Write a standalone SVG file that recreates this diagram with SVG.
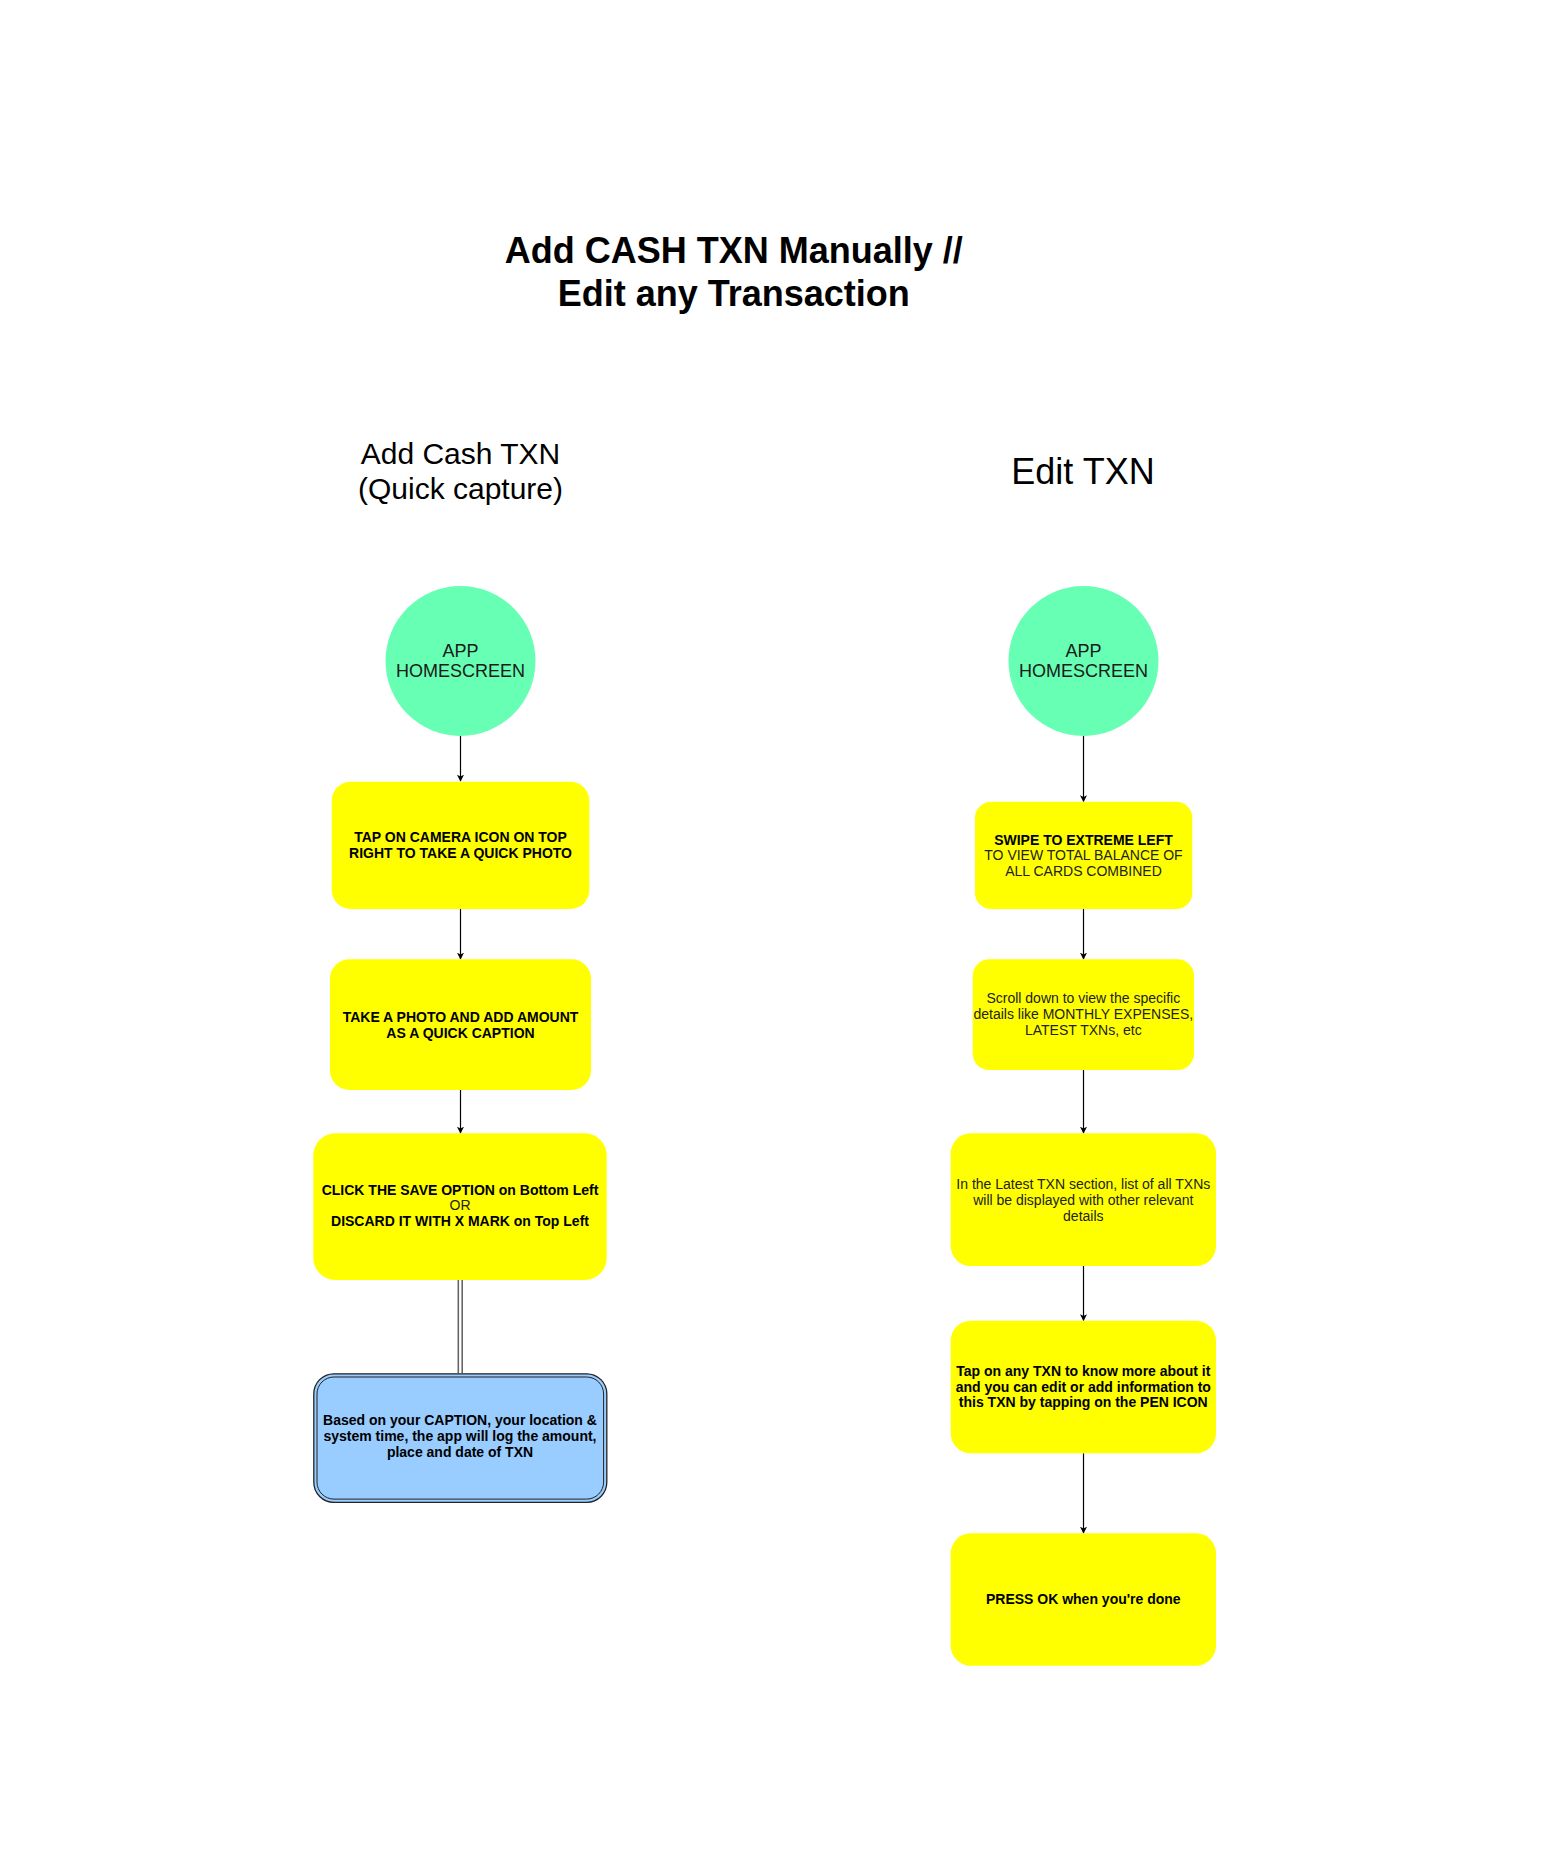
<svg xmlns="http://www.w3.org/2000/svg" width="1545" height="1868" viewBox="0 0 1545 1868">
<style>
text{font-family:"Liberation Sans",Arial,sans-serif;text-anchor:middle;}
.title{font-size:36px;font-weight:bold;fill:#000;}
.sub{font-size:30px;fill:#000;}
.sub2{font-size:36px;fill:#000;}
.circ{fill:#66FFB3;stroke:none;}
.ct{font-size:18px;fill:#1a1a1a;}
.box{fill:#FFFF00;stroke:none;}
.b{font-size:14px;font-weight:bold;fill:#000;}
.r{font-size:14px;fill:#222;}
.edge{stroke:#000;stroke-width:1.2;fill:none;marker-end:url(#arr);}
.link{stroke:#666;stroke-width:1.6;fill:none;}
</style>
<defs>
<marker id="arr" viewBox="0 0 10 10" refX="9" refY="5" markerWidth="7" markerHeight="7" markerUnits="userSpaceOnUse" orient="auto">
<path d="M0,0 L10,5 L0,10 L2.5,5 Z" fill="#000"/>
</marker>
</defs>
<rect width="1545" height="1868" fill="#fff"/>

<g id="title">
<text class="title" x="733.7" y="263">Add CASH TXN Manually //</text>
<text class="title" x="733.7" y="306">Edit any Transaction</text>
</g>
<g id="label-add">
<text class="sub" x="460.5" y="464.3">Add Cash TXN</text>
<text class="sub" x="460.5" y="498.5">(Quick capture)</text>
</g>
<g id="label-edit">
<text class="sub2" x="1083" y="483.8">Edit TXN</text>
</g>

<g id="connectors">
<line class="edge" x1="460.5" y1="736" x2="460.5" y2="781"/>
<line class="edge" x1="460.5" y1="909" x2="460.5" y2="959"/>
<line class="edge" x1="460.5" y1="1090" x2="460.5" y2="1133"/>
<line class="link" x1="458.3" y1="1280" x2="458.3" y2="1373"/>
<line class="link" x1="462.2" y1="1280" x2="462.2" y2="1373"/>
<line class="edge" x1="1083.5" y1="736" x2="1083.5" y2="801.5"/>
<line class="edge" x1="1083.5" y1="909" x2="1083.5" y2="959"/>
<line class="edge" x1="1083.5" y1="1070" x2="1083.5" y2="1133"/>
<line class="edge" x1="1083.5" y1="1266" x2="1083.5" y2="1320.5"/>
<line class="edge" x1="1083.5" y1="1453.3" x2="1083.5" y2="1533"/>
</g>

<g id="n-home-left">
<circle class="circ" cx="460.5" cy="661" r="75"/>
<text class="ct" x="460.5" y="657.3">APP</text>
<text class="ct" x="460.5" y="677.3">HOMESCREEN</text>
</g>
<g id="n-tap-camera">
<rect class="box" x="331.7" y="781.7" width="257.6" height="127.3" rx="19" ry="19"/>
<text class="b" x="460.5" y="842">TAP ON CAMERA ICON ON TOP</text>
<text class="b" x="460.5" y="858">RIGHT TO TAKE A QUICK PHOTO</text>
</g>
<g id="n-take-photo">
<rect class="box" x="330" y="959.3" width="261" height="130.7" rx="19.5" ry="19.5"/>
<text class="b" x="460.5" y="1021.5">TAKE A PHOTO AND ADD AMOUNT</text>
<text class="b" x="460.5" y="1037.5">AS A QUICK CAPTION</text>
</g>
<g id="n-save">
<rect class="box" x="313.3" y="1133.3" width="293.4" height="146.7" rx="22" ry="22"/>
<text class="b" x="460" y="1194.5">CLICK THE SAVE OPTION on Bottom Left</text>
<text class="r" x="460" y="1210.3">OR</text>
<text class="b" x="460" y="1226">DISCARD IT WITH X MARK on Top Left</text>
</g>
<g id="n-log">
<rect x="313.8" y="1373.8" width="293" height="128.5" rx="20" ry="20" fill="#99CCFF" stroke="#222" stroke-width="1.3"/>
<rect x="317" y="1377" width="286.6" height="122.1" rx="17" ry="17" fill="none" stroke="#222" stroke-width="1"/>
<text class="b" x="460" y="1425">Based on your CAPTION, your location &amp;</text>
<text class="b" x="460" y="1441">system time, the app will log the amount,</text>
<text class="b" x="460" y="1456.7">place and date of TXN</text>
</g>

<g id="n-home-right">
<circle class="circ" cx="1083.5" cy="661" r="75"/>
<text class="ct" x="1083.5" y="657.3">APP</text>
<text class="ct" x="1083.5" y="677.3">HOMESCREEN</text>
</g>
<g id="n-swipe">
<rect class="box" x="975" y="801.7" width="217.3" height="107.3" rx="16" ry="16"/>
<text class="b" x="1083.5" y="844.5">SWIPE TO EXTREME LEFT</text>
<text class="r" x="1083.5" y="860.3">TO VIEW TOTAL BALANCE OF</text>
<text class="r" x="1083.5" y="876">ALL CARDS COMBINED</text>
</g>
<g id="n-scroll">
<rect class="box" x="972.7" y="959.3" width="221.3" height="110.7" rx="16.5" ry="16.5"/>
<text class="r" x="1083.3" y="1003.3">Scroll down to view the specific</text>
<text class="r" x="1083.3" y="1019">details like MONTHLY EXPENSES,</text>
<text class="r" x="1083.3" y="1034.5">LATEST TXNs, etc</text>
</g>
<g id="n-latest">
<rect class="box" x="950.7" y="1133.3" width="265.3" height="132.7" rx="20" ry="20"/>
<text class="r" x="1083.3" y="1189">In the Latest TXN section, list of all TXNs</text>
<text class="r" x="1083.3" y="1205">will be displayed with other relevant</text>
<text class="r" x="1083.3" y="1220.5">details</text>
</g>
<g id="n-tap-txn">
<rect class="box" x="950.7" y="1320.7" width="265.3" height="132.6" rx="20" ry="20"/>
<text class="b" x="1083.3" y="1376">Tap on any TXN to know more about it</text>
<text class="b" x="1083.3" y="1391.7">and you can edit or add information to</text>
<text class="b" x="1083.3" y="1407.3">this TXN by tapping on the PEN ICON</text>
</g>
<g id="n-press-ok">
<rect class="box" x="950.7" y="1533.3" width="265.3" height="132.4" rx="20" ry="20"/>
<text class="b" x="1083.3" y="1604.2">PRESS OK when you're done</text>
</g>
</svg>
